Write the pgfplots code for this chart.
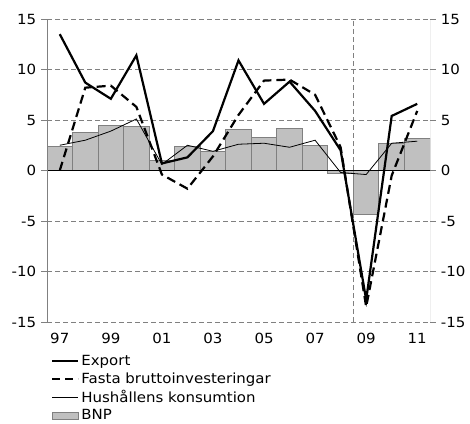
\documentclass[border=0pt]{standalone}
\usepackage{pgfplots}
\pgfplotsset{compat=1.18}
\usepackage{fontspec}
\setmainfont{DejaVu Sans}[FakeStretch=1.07]
\definecolor{barfill}{HTML}{C0C0C0}
\definecolor{baredge}{HTML}{808080}
\definecolor{gridc}{HTML}{808080}
\pgfplotsset{
  lineleg/.style={legend image code/.code={\draw[##1] (0pt,0pt) -- (26pt,0pt);}},
  barleg/.style={legend image code/.code={\draw[##1] (0pt,-3.5pt) rectangle (26pt,3.5pt);}},
}
\begin{document}
\fontsize{14}{16}\selectfont
\begin{tikzpicture}
\pgfplotsset{
  common/.style={
    scale only axis, width=383pt, height=303pt,
    xmin=1996.5, xmax=2011.5, ymin=-15, ymax=15,
    ytick={-15,-10,...,15},
    /pgf/number format/assume math mode=true,
    tick style={gridc, line width=0.8pt},
    major tick length=6pt,
    tick align=outside,
    ticklabel style={font=\fontsize{14}{16}\selectfont},
  }
}
\begin{axis}[common, name=main,
  axis line style={draw=none},
  xtick={1997,1999,...,2011},
  xticklabels={97,99,01,03,05,07,09,11},
  x tick style={draw=none},
  minor xtick={1996.5,1997.5,...,2011.5},
  minor x tick style={gridc, line width=0.8pt},
  minor tick length=5pt,
  xtick pos=bottom,
  ytick pos=left,
  ymajorgrids,
  grid style={gridc, dashed, dash pattern=on 5pt off 3pt, line width=0.9pt},
  legend style={at={(0,0)}, anchor=north west, xshift=1pt, yshift=-29pt, draw=none, fill=none,
    font=\fontsize{14}{16}\selectfont, row sep=1pt, cells={anchor=west}},
  legend cell align=left,
]
\addplot[ybar, bar width=1, fill=barfill, draw=baredge, line width=0.9pt, forget plot] coordinates {
(1997,2.4) (1998,3.8) (1999,4.5) (2000,4.4) (2001,1.0) (2002,2.4) (2003,1.9) (2004,4.1)
(2005,3.3) (2006,4.2) (2007,2.5) (2008,-0.3) (2009,-4.4) (2010,2.7) (2011,3.2)};
\draw[black, line width=1.4pt] (axis cs:1996.5,0) -- (axis cs:2011.5,0);
\draw[gridc, dashed, dash pattern=on 5pt off 3pt, line width=0.9pt] (axis cs:2008.5,-15) -- (axis cs:2008.5,15);
\draw[gridc, line width=0.9pt] (rel axis cs:0,0) -- (rel axis cs:0,1);
\draw[gridc, line width=0.9pt] (rel axis cs:1,0) -- (rel axis cs:1,1);
\addplot[black, line width=0.8pt, forget plot] coordinates {
(1997,2.5) (1998,3.0) (1999,3.9) (2000,5.1) (2001,0.6) (2002,2.5) (2003,1.9) (2004,2.6)
(2005,2.7) (2006,2.3) (2007,3.0) (2008,-0.2) (2009,-0.4) (2010,2.7) (2011,2.9)};
\addplot[black, line width=2.2pt, dash pattern=on 9pt off 5pt, forget plot] coordinates {
(1997,0.0) (1998,8.2) (1999,8.4) (2000,6.3) (2001,-0.4) (2002,-1.8) (2003,1.4) (2004,5.5)
(2005,8.9) (2006,9.0) (2007,7.5) (2008,2.3) (2009,-13.5) (2010,-0.5) (2011,5.9)};
\addplot[black, line width=2.2pt, forget plot] coordinates {
(1997,13.5) (1998,8.7) (1999,7.1) (2000,11.4) (2001,0.7) (2002,1.3) (2003,3.9) (2004,10.9)
(2005,6.6) (2006,8.8) (2007,5.9) (2008,2.0) (2009,-12.8) (2010,5.4) (2011,6.6)};
\addlegendimage{black, line width=2.2pt, lineleg}
\addlegendentry{Export}
\addlegendimage{black, line width=2.2pt, dash pattern=on 8pt off 5pt, lineleg}
\addlegendentry{Fasta bruttoinvesteringar}
\addlegendimage{black, line width=0.8pt, lineleg}
\addlegendentry{Hushållens konsumtion}
\addlegendimage{fill=barfill, draw=baredge, line width=0.9pt, barleg}
\addlegendentry{BNP}
\end{axis}
\begin{axis}[common,
  axis line style={draw=none},
  xtick=\empty,
  ytick pos=right,
  yticklabel pos=right,
]
\end{axis}
\pgfresetboundingbox
\path ([shift={(-47pt,-101pt)}]main.south west) rectangle ([shift={(40pt,19pt)}]main.north east);
\end{tikzpicture}
\end{document}
